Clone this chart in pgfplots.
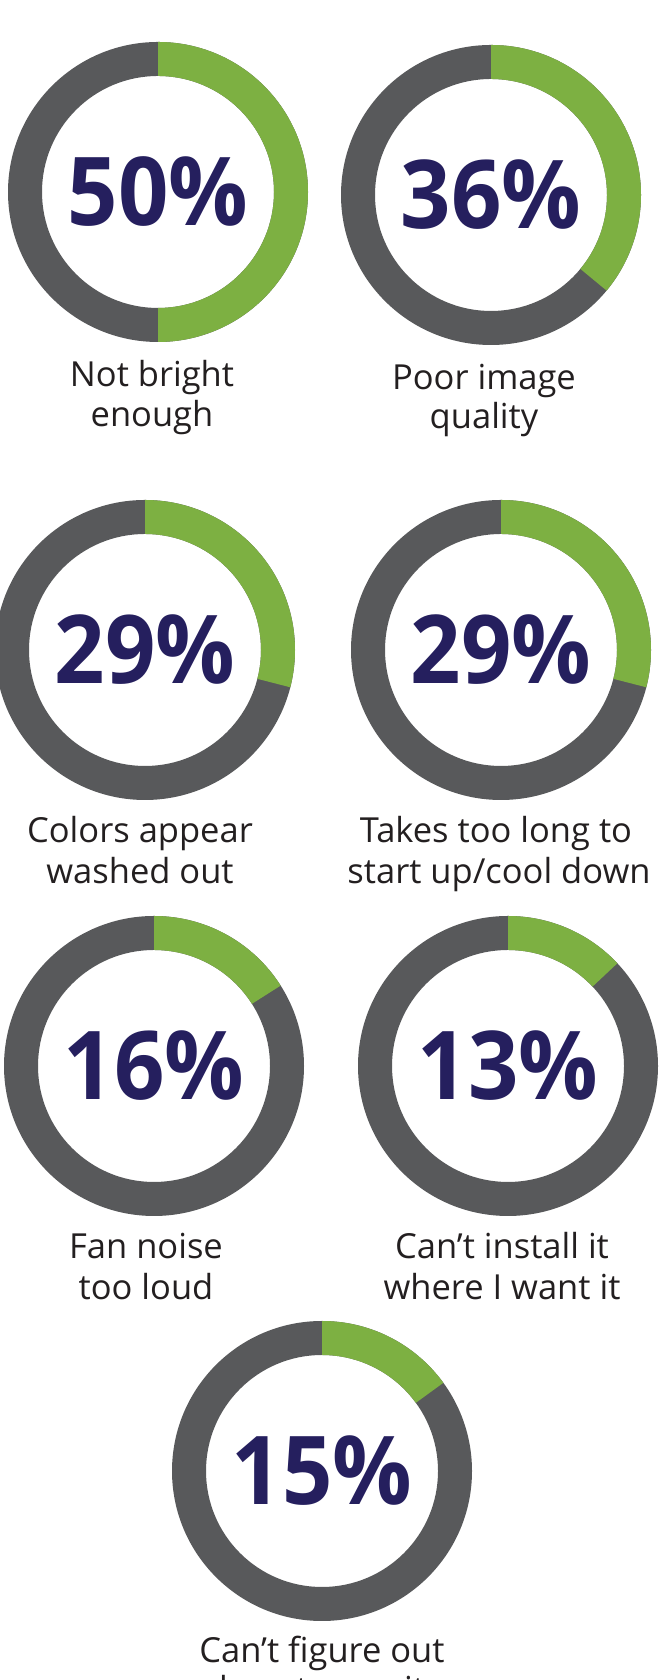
\documentclass[border=0pt]{standalone}
\usepackage{pgfplots}
\usepackage{pgfplotstable}
\pgfplotsset{compat=1.18}
\usepackage{fontspec}
\setmainfont{Open Sans}
\newfontfamily\pctfont[FakeStretch=0.93]{Open Sans}

\definecolor{ringgreen}{HTML}{7DB042}
\definecolor{ringgray}{HTML}{58595B}
\definecolor{pctnavy}{HTML}{251F5E}
\definecolor{labelink}{HTML}{231F20}

\tikzset{lbl/.style={anchor=base, text=labelink, font=\fontsize{34.5}{40}\selectfont}}

% donut mark: grey ring, green arc clockwise from the top for \pct percent
\pgfdeclareplotmark{donut}{%
  \begin{pgfscope}
    \pgfsetfillcolor{ringgray}
    \pgfseteorule
    \pgfpathcircle{\pgfpointorigin}{150pt}
    \pgfpathcircle{\pgfpointorigin}{116pt}
    \pgfusepath{fill}
  \end{pgfscope}
  \begin{pgfscope}
    \pgfmathsetmacro\endang{90-3.6*\pct}
    \pgfsetfillcolor{ringgreen}
    \pgfpathmoveto{\pgfpointpolar{90}{150pt}}
    \pgfpatharc{90}{\endang}{150pt}
    \pgfpathlineto{\pgfpointpolar{\endang}{116pt}}
    \pgfpatharc{\endang}{90}{116pt}
    \pgfpathclose
    \pgfusepath{fill}
  \end{pgfscope}
}

% centre of each donut (pt, origin bottom left) and its share in percent
\pgfplotstableread{
x   y    pct
158 1488 50
491 1485 36
145 1030 29
501 1030 29
154 614  16
508 614  13
322 209  15
}\donuts

\begin{document}
\begin{tikzpicture}[x=1pt,y=1pt]
\useasboundingbox (0,0) rectangle (659,1680);
\begin{axis}[
    at={(0,0)}, anchor=south west,
    width=659pt, height=1680pt, scale only axis,
    xmin=0, xmax=659, ymin=0, ymax=1680,
    hide axis, clip=false,
]
\addplot[
    only marks, mark=donut,
    visualization depends on={\thisrow{pct} \as \pct},
    nodes near coords={\pgfmathprintnumber[assume math mode=true, fixed, precision=0]{\pct}\%},
    nodes near coords align={center},
    every node near coord/.append style={font=\pctfont\bfseries\fontsize{95}{95}\selectfont, text=pctnavy},
] table[x=x, y=y] {\donuts};

\node[lbl] at (152,1293) {Not bright};
\node[lbl] at (152,1253) {enough};
\node[lbl] at (484,1290) {Poor image};
\node[lbl] at (484,1251) {quality};
\node[lbl] at (140,837) {Colors appear};
\node[lbl] at (140,796) {washed out};
\node[lbl] at (496,837) {Takes too long to};
\node[lbl] at (499,796) {start up/cool down};
\node[lbl] at (146,421) {Fan noise};
\node[lbl] at (146,380) {too loud};
\node[lbl] at (502,421) {Can’t install it};
\node[lbl] at (502,380) {where I want it};
\node[lbl] at (322,17) {Can’t figure out};
\node[lbl] at (322,-21) {how to use it};
\end{axis}
\end{tikzpicture}
\end{document}
